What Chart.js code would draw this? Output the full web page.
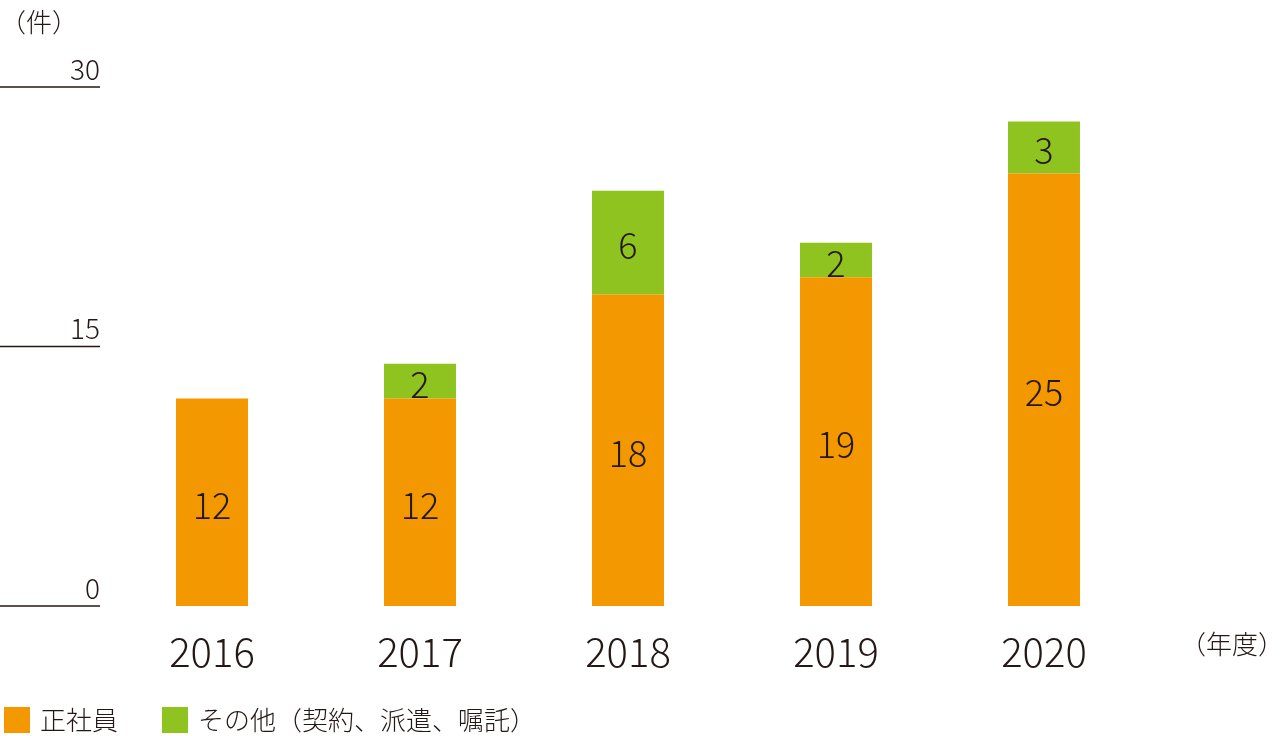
<!DOCTYPE html>
<html><head><meta charset="utf-8">
<script src="https://cdn.jsdelivr.net/npm/chart.js@4/dist/chart.umd.min.js"></script>
<style>
html,body{margin:0;padding:0;background:#fff;}
body{width:1288px;height:736px;position:relative;overflow:hidden;font-family:"Noto Sans CJK JP",sans-serif;color:#231815;}
#c{position:absolute;left:0;top:0;}
.t{position:absolute;font-size:26px;font-weight:300;white-space:nowrap;}
.sq{position:absolute;width:26px;height:26px;}
</style></head><body>
<canvas id="c" width="1288" height="736"></canvas>
<div class="t" style="left:0;top:2px;">（件）</div>
<div class="t" style="left:1180px;top:624px;">（年度）</div>
<div class="sq" style="left:4px;top:707px;background:#F39800"></div>
<div class="t" style="left:40px;top:700px;">正社員</div>
<div class="sq" style="left:162px;top:707px;background:#8FC31F"></div>
<div class="t" style="left:198px;top:700px;">その他（契約、派遣、嘱託）</div>
<script>
const categories=["2016","2017","2018","2019","2020"];
const regular=[12,12,18,19,25];
const others=[0,2,6,2,3];
const yTicks=[0,15,30];
const FONT='"Noto Sans CJK JP", sans-serif';
const deco={id:'deco',afterDatasetsDraw(ch){
  const ctx=ch.ctx,y=ch.scales.y;
  ctx.save();
  ctx.fillStyle='#231815';ctx.strokeStyle='#231815';ctx.lineWidth=1.5;
  ctx.font='300 28px '+FONT;ctx.textAlign='right';ctx.textBaseline='bottom';
  yTicks.forEach(v=>{const p=y.getPixelForValue(v);
    ctx.beginPath();ctx.moveTo(0,p);ctx.lineTo(100,p);ctx.stroke();
    ctx.fillText(String(v),100,p-4);});
  ctx.font='300 36px '+FONT;ctx.textAlign='center';ctx.textBaseline='middle';
  ch.data.datasets.forEach((ds,i)=>{ch.getDatasetMeta(i).data.forEach((b,j)=>{
    const v=ds.data[j];if(!v)return;
    ctx.fillText(String(v),b.x,(b.y+b.base)/2+3);});});
  ctx.restore();}};
new Chart(document.getElementById('c'),{type:'bar',
 data:{labels:categories,datasets:[
  {label:'正社員',data:regular,backgroundColor:'#F39800'},
  {label:'その他',data:others,backgroundColor:'#8FC31F'}]},
 options:{responsive:false,animation:false,events:[],
  layout:{padding:{left:108,right:140,top:87,bottom:0}},
  barPercentage:1,categoryPercentage:0.346,
  plugins:{legend:{display:false},tooltip:{enabled:false}},
  scales:{
   x:{stacked:true,grid:{display:false},border:{display:false},
      ticks:{color:'#231815',font:{family:FONT,size:40,weight:300},padding:14},
      afterFit(s){s.height=130;}},
   y:{stacked:true,display:false,min:0,max:30}}},
 plugins:[deco]});
</script></body></html>
